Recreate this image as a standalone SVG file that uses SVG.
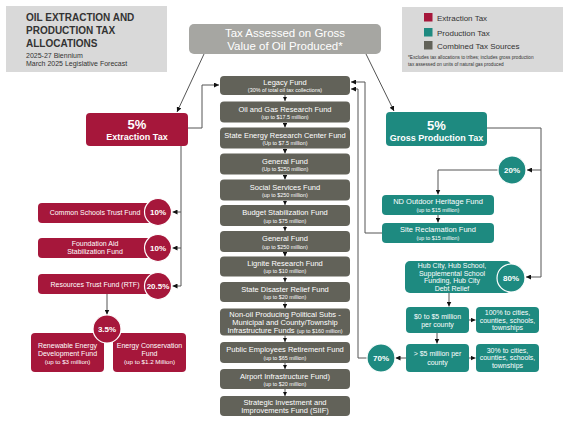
<svg xmlns="http://www.w3.org/2000/svg" width="570" height="440" viewBox="0 0 570 440">
<defs>
<marker id="ah" viewBox="0 0 6 6" refX="6" refY="3" markerWidth="5" markerHeight="5" markerUnits="userSpaceOnUse" orient="auto">
<path d="M0,0 L6,3 L0,6 z" fill="#111"/>
</marker>
<marker id="ahs" viewBox="0 0 6 6" refX="6" refY="3" markerWidth="4.5" markerHeight="4.5" markerUnits="userSpaceOnUse" orient="auto">
<path d="M0,0 L6,3 L0,6 z" fill="#111"/>
</marker>
</defs>
<style>
text{font-family:"Liberation Sans",Arial,sans-serif;fill:#fff;text-anchor:middle}
.red{fill:#a6173b}
.teal{fill:#1e8a80}
.gray{fill:#626259}
.circ{stroke:#fff;stroke-width:1.2}
.t{font-size:7.5px}
.s{font-size:5.4px}
.r{font-size:7px}
.pc{font-size:8px;font-weight:bold}
.ln{fill:none;stroke:#555;stroke-width:1;marker-end:url(#ah)}
.lnn{fill:none;stroke:#555;stroke-width:1}
.sm{fill:none;stroke:#333;stroke-width:0.8;marker-end:url(#ahs)}
.dk{fill:#333;text-anchor:start}
</style>
<rect width="570" height="440" fill="#fff"/>

<g id="title">
<rect x="6" y="6" width="161" height="66" fill="#d9d9d9"/>
<text class="dk" x="26" y="21" style="font-size:10px;font-weight:bold">OIL EXTRACTION AND</text>
<text class="dk" x="26" y="34" style="font-size:10px;font-weight:bold">PRODUCTION TAX</text>
<text class="dk" x="26" y="47" style="font-size:10px;font-weight:bold">ALLOCATIONS</text>
<text class="dk" x="26" y="57.5" style="font-size:7px">2025-27 Biennium</text>
<text class="dk" x="26" y="66" style="font-size:7px">March 2025 Legislative Forecast</text>
</g>

<g id="legend">
<rect x="402" y="7" width="161" height="65" fill="#d9d9d9"/>
<rect x="424" y="13" width="8.5" height="8.5" class="red"/>
<text class="dk" x="437" y="20.5" style="font-size:8px">Extraction Tax</text>
<rect x="424" y="28" width="8.5" height="8.5" class="teal"/>
<text class="dk" x="437" y="35.5" style="font-size:8px">Production Tax</text>
<rect x="424" y="41" width="8.5" height="8.5" class="gray"/>
<text class="dk" x="437" y="48.5" style="font-size:8px">Combined Tax Sources</text>
<text class="dk" x="408" y="59" style="font-size:4.7px">*Excludes tax allocations to tribes; includes gross production</text>
<text class="dk" x="408" y="65.5" style="font-size:4.7px">tax assessed on units of natural gas produced</text>
</g>

<g id="connectors">
<path class="ln" d="M204,54 L177,112"/>
<path class="ln" d="M366,54 L394,111"/>
<path class="ln" d="M188,128 H202 V85 H219"/>
<path class="lnn" d="M181,146 V286"/>
<path class="ln" d="M181,212 H172.5"/>
<path class="ln" d="M181,248 H172.5"/>
<path class="ln" d="M181,286 H172.5"/>
<path class="ln" d="M107,294 V314.5"/>
<path class="ln" d="M487,128 H541 V277 H526"/>
<path class="ln" d="M541,170 H527"/>
<path class="ln" d="M498,170 H438 V194.5"/>
<path class="ln" d="M438,215 V222.5"/>
<path class="ln" d="M382,233 H365 V82 H351"/>
<path class="ln" d="M367,358 H358 V89 H351"/>
<path class="ln" d="M449,293 V306.5"/>
<path class="ln" d="M469,320 H475.5"/>
<path class="ln" d="M437,333 V343.5"/>
<path class="ln" d="M469,358 H475.5"/>
<path class="ln" d="M406,358 H395.5"/>
<path class="sm" d="M285,95 V101"/>
<path class="sm" d="M285,122.5 V127.5"/>
<path class="sm" d="M285,148.5 V153.5"/>
<path class="sm" d="M285,174.5 V179.5"/>
<path class="sm" d="M285,200.5 V205"/>
<path class="sm" d="M285,226 V231"/>
<path class="sm" d="M285,252 V256.5"/>
<path class="sm" d="M285,276.5 V282"/>
<path class="sm" d="M285,302 V308.5"/>
<path class="sm" d="M285,335.5 V342"/>
<path class="sm" d="M285,363 V369"/>
<path class="sm" d="M285,389 V396"/>
</g>

<g id="tax-assessed">
<rect x="189" y="24" width="192" height="30" rx="5" fill="#a6a6a2"/>
<text x="285" y="37" style="font-size:11.5px">Tax Assessed on Gross</text>
<text x="285" y="50" style="font-size:11.5px">Value of Oil Produced*</text>
</g>

<g id="extraction-tax">
<rect x="86" y="113" width="102" height="33" rx="4" class="red"/>
<text x="137" y="129" style="font-size:13px;font-weight:bold">5%</text>
<text x="137" y="140" style="font-size:9px;font-weight:bold">Extraction Tax</text>
</g>

<g id="common-schools">
<rect x="38" y="203" width="125" height="20" rx="4" class="red"/>
<text class="r" x="95" y="215">Common Schools Trust Fund</text>
<circle cx="158" cy="212" r="13.5" class="red circ"/>
<text class="pc" x="158" y="215">10%</text>
</g>
<g id="foundation-aid">
<rect x="38" y="238" width="125" height="20" rx="4" class="red"/>
<text class="r" x="95" y="246">Foundation Aid</text>
<text class="r" x="95" y="254">Stabilization Fund</text>
<circle cx="158" cy="248" r="13.5" class="red circ"/>
<text class="pc" x="158" y="251">10%</text>
</g>
<g id="rtf">
<rect x="38" y="274" width="125" height="20" rx="4" class="red"/>
<text class="r" x="95" y="287">Resources Trust Fund (RTF)</text>
<circle cx="158" cy="286" r="13.5" class="red circ"/>
<text class="pc" x="158" y="289">20.5%</text>
</g>
<g id="renewable">
<rect x="31" y="333" width="73" height="39" rx="4" class="red"/>
<text class="r" x="67.5" y="348">Renewable Energy</text>
<text class="r" x="67.5" y="356">Development Fund</text>
<text x="67.5" y="364" style="font-size:6.2px">(up to $3 million)</text>
</g>
<g id="energy-conservation">
<rect x="113" y="333" width="73" height="39" rx="4" class="red"/>
<text class="r" x="149.5" y="348">Energy Conservation</text>
<text class="r" x="149.5" y="356">Fund</text>
<text x="149.5" y="364" style="font-size:6.2px">(up to $1.2 Million)</text>
</g>
<g id="pct-3-5">
<circle cx="107" cy="329" r="14" class="red circ"/>
<text class="pc" x="107" y="332">3.5%</text>
</g>

<g id="legacy"><rect x="220" y="76" width="130" height="19" rx="4" class="gray"/>
<text class="t" x="285" y="85">Legacy Fund</text><text class="s" x="285" y="92">(30% of total oil tax collections)</text></g>
<g id="oil-gas"><rect x="220" y="101.5" width="130" height="21" rx="4" class="gray"/>
<text class="t" x="285" y="111.5">Oil and Gas Research Fund</text><text class="s" x="285" y="119">(up to $17.5 million)</text></g>
<g id="state-energy"><rect x="220" y="127.5" width="130" height="21" rx="4" class="gray"/>
<text class="t" x="285" y="137.5">State Energy Research Center Fund</text><text class="s" x="285" y="145">(Up to $7.5 million)</text></g>
<g id="general-1"><rect x="220" y="153.5" width="130" height="21" rx="4" class="gray"/>
<text class="t" x="285" y="163.5">General Fund</text><text class="s" x="285" y="171">(Up to $250 million)</text></g>
<g id="social"><rect x="220" y="179.5" width="130" height="21" rx="4" class="gray"/>
<text class="t" x="285" y="189.5">Social Services Fund</text><text class="s" x="285" y="197">(up to $250 million)</text></g>
<g id="budget"><rect x="220" y="205" width="130" height="21" rx="4" class="gray"/>
<text class="t" x="285" y="215">Budget Stabilization Fund</text><text class="s" x="285" y="222.5">(up to $75 million)</text></g>
<g id="general-2"><rect x="220" y="231" width="130" height="21" rx="4" class="gray"/>
<text class="t" x="285" y="241">General Fund</text><text class="s" x="285" y="248.5">(up to $250 million)</text></g>
<g id="lignite"><rect x="220" y="256.5" width="130" height="20" rx="4" class="gray"/>
<text class="t" x="285" y="266">Lignite Research Fund</text><text class="s" x="285" y="273">(up to $10 million)</text></g>
<g id="disaster"><rect x="220" y="282" width="130" height="20" rx="4" class="gray"/>
<text class="t" x="285" y="291.5">State Disaster Relief Fund</text><text class="s" x="285" y="298.5">(up to $20 million)</text></g>
<g id="non-oil"><rect x="220" y="308.5" width="130" height="27" rx="4" class="gray"/>
<text class="t" x="285" y="317">Non-oil Producing Political Subs -</text>
<text class="t" x="285" y="325">Municipal and County/Township</text>
<text class="t" x="285" y="333">Infrastructure Funds <tspan style="font-size:5.4px">(up to $160 million)</tspan></text></g>
<g id="pers"><rect x="220" y="342" width="130" height="21" rx="4" class="gray"/>
<text class="t" x="285" y="352">Public Employees Retirement Fund</text><text class="s" x="285" y="359.5">(up to $65 million)</text></g>
<g id="airport"><rect x="220" y="369" width="130" height="20" rx="4" class="gray"/>
<text class="t" x="285" y="378.5">Airport Infrastructure Fund)</text><text class="s" x="285" y="385.5">(up to  $20 million)</text></g>
<g id="siif"><rect x="220" y="396" width="130" height="20" rx="4" class="gray"/>
<text class="t" x="285" y="404.5">Strategic Investment and</text><text class="t" x="285" y="412.5">Improvements Fund (SIIF)</text></g>

<g id="gross-production-tax">
<rect x="386" y="112" width="101" height="34" rx="4" class="teal"/>
<text x="436.5" y="130" style="font-size:13px;font-weight:bold">5%</text>
<text x="436.5" y="141" style="font-size:9px;font-weight:bold">Gross Production Tax</text>
</g>
<g id="pct-20">
<circle cx="512" cy="170" r="14" class="teal circ"/>
<text class="pc" x="512" y="173">20%</text>
</g>
<g id="nd-outdoor">
<rect x="382" y="195" width="112" height="20" rx="4" class="teal"/>
<text class="t" x="438" y="204">ND Outdoor Heritage Fund</text>
<text class="s" x="438" y="211.5">(up to $15 million)</text>
</g>
<g id="site-reclamation">
<rect x="382" y="223" width="112" height="20" rx="4" class="teal"/>
<text class="t" x="438" y="232">Site Reclamation Fund</text>
<text class="s" x="438" y="239.5">(up to $15 million)</text>
</g>
<g id="hub-city">
<rect x="405" y="261" width="106" height="32" rx="5" class="teal"/>
<text class="r" x="452" y="268">Hub City, Hub School,</text>
<text class="r" x="452" y="275.5">Supplemental School</text>
<text class="r" x="452" y="283">Funding, Hub City</text>
<text class="r" x="452" y="290.5">Debt Relief</text>
<circle cx="511" cy="278" r="14" class="teal circ"/>
<text class="pc" x="511" y="281">80%</text>
</g>
<g id="zero-to-five">
<rect x="406" y="307" width="63" height="26" rx="4" class="teal"/>
<text class="r" x="437.5" y="318.5">$0 to $5 million</text>
<text class="r" x="437.5" y="327">per county</text>
</g>
<g id="hundred-pct">
<rect x="476" y="307" width="63" height="26" rx="4" class="teal"/>
<text class="r" x="507.5" y="315">100% to cities,</text>
<text class="r" x="507.5" y="322.5">counties, schools,</text>
<text class="r" x="507.5" y="330">townships</text>
</g>
<g id="over-five">
<rect x="406" y="344" width="63" height="28" rx="4" class="teal"/>
<text class="r" x="437.5" y="356">&gt; $5 million per</text>
<text class="r" x="437.5" y="364.5">county</text>
</g>
<g id="thirty-pct">
<rect x="476" y="344" width="63" height="28" rx="4" class="teal"/>
<text class="r" x="507.5" y="352.5">30% to cities,</text>
<text class="r" x="507.5" y="360">counties, schools,</text>
<text class="r" x="507.5" y="367.5">townships</text>
</g>
<g id="pct-70">
<circle cx="381" cy="358" r="14" class="teal circ"/>
<text class="pc" x="381" y="361">70%</text>
</g>
</svg>
